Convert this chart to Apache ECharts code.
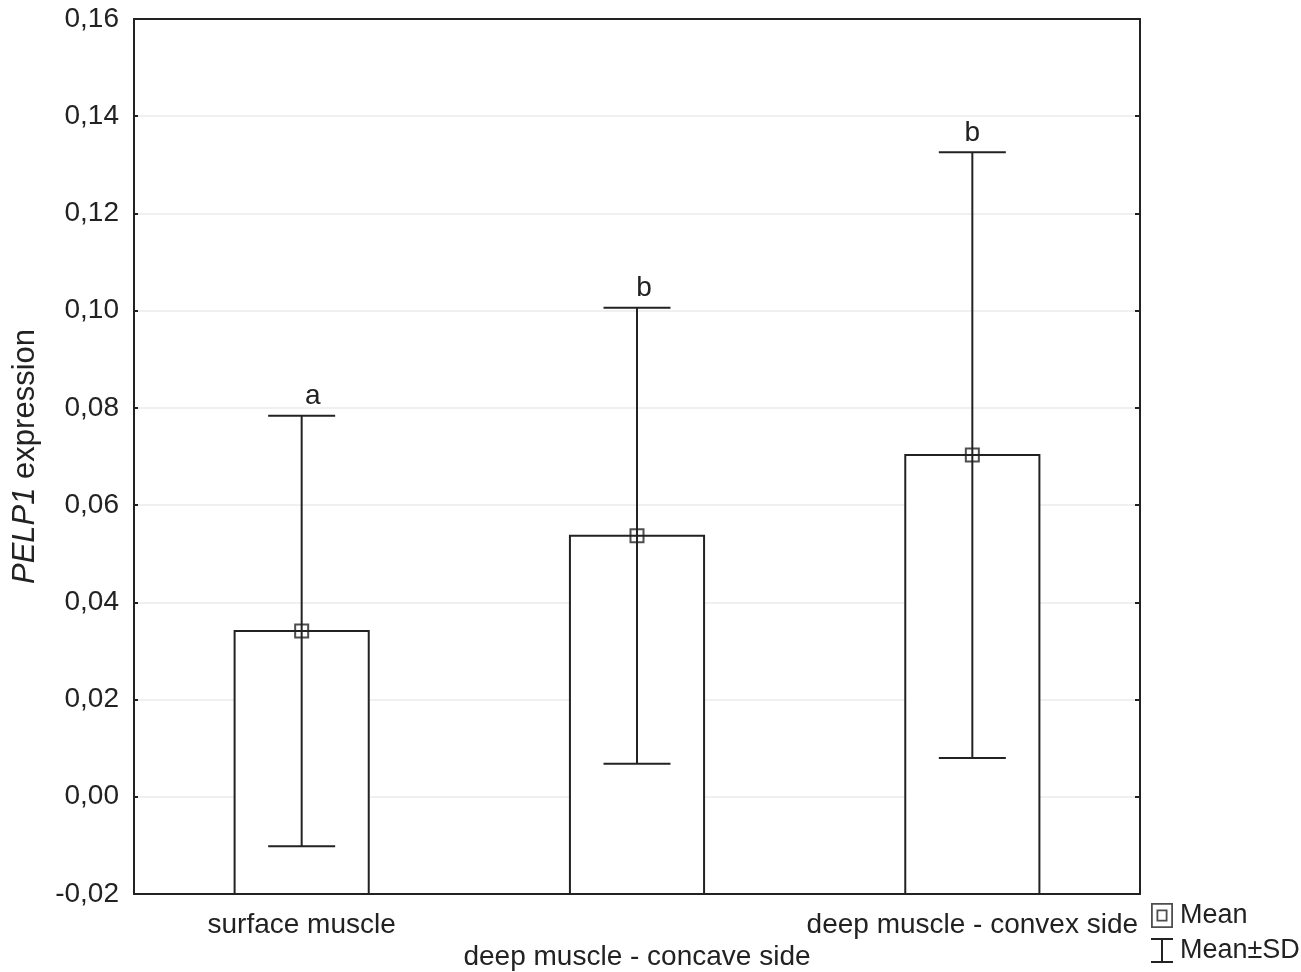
<!DOCTYPE html>
<html>
<head>
<meta charset="utf-8">
<script src="https://cdn.jsdelivr.net/npm/echarts@6/dist/echarts.min.js"></script>
<style>html,body{margin:0;padding:0;background:#fff;}#c{width:1301px;height:972px;}</style>
</head>
<body>
<div id="c"></div>
<script>
var categories = ['surface muscle', 'deep muscle - concave side', 'deep muscle - convex side'];
var means = [0.0341, 0.0537, 0.0703];
var sds = [0.0443, 0.0469, 0.0623];
var letters = ['a', 'b', 'b'];
var yTicks = { min: -0.02, max: 0.16, interval: 0.02 };

// label placement tweaks (style only)
var letterDx = [11, 7, 0];

var FONT = '"Liberation Sans", Arial, sans-serif';
var FS = 28;
var INK = '#222';
var LW = 2;

var barData = categories.map(function (c, i) { return [i, means[i]]; });
var errData = categories.map(function (c, i) {
  return [i, means[i] - sds[i], means[i] + sds[i]];
});
var meanData = categories.map(function (c, i) { return [i, means[i]]; });

var chart = echarts.init(document.getElementById('c'));
chart.setOption({
  animation: false,
  backgroundColor: '#fff',
  grid: { left: 134, right: 161, top: 19, bottom: 78, show: false, containLabel: false, outerBoundsMode: 'none' },
  legend: {
    orient: 'vertical', left: 1146, top: 897, itemGap: 8, itemWidth: 22, itemHeight: 25,
    selectedMode: false,
    textStyle: { fontFamily: FONT, fontSize: FS - 1, color: INK, padding: [0, 0, 0, 2] },
    data: [
      { name: 'Mean', icon: 'path://M0,0H22V25H0ZM1.8,1.8V23.2H20.2V1.8ZM5.5,6.5H16.5V18.5H5.5ZM7.3,8.3V16.7H14.7V8.3Z', itemStyle: { color: INK, borderWidth: 0 } },
      { name: 'Mean±SD', icon: 'path://M0,0H22V2H12V23H22V25H0V23H10V2H0Z', itemStyle: { color: INK, borderWidth: 0 } }
    ]
  },
  xAxis: [{
    type: 'category', data: categories, boundaryGap: true,
    axisLine: { show: true, onZero: false, lineStyle: { color: INK, width: LW } },
    axisTick: { show: true, inside: true, alignWithLabel: true, length: 5, lineStyle: { color: INK, width: LW } },
    axisLabel: {
      fontFamily: FONT, fontSize: FS, color: INK, margin: 15, lineHeight: 32, interval: 0,
      formatter: function (v, i) { return i === 1 ? '\n' + v : v; }
    },
    splitLine: { show: false }
  }, {
    type: 'category', data: categories, position: 'top', boundaryGap: true,
    axisLine: { show: true, onZero: false, lineStyle: { color: INK, width: LW } },
    axisTick: { show: false }, axisLabel: { show: false }, splitLine: { show: false }
  }],
  yAxis: [{
    type: 'value', min: yTicks.min, max: yTicks.max, interval: yTicks.interval,
    name: '{i|PELP1} expression', nameLocation: 'middle', nameGap: 93, nameRotate: 90,
    nameTextStyle: { fontFamily: FONT, fontSize: 31, color: INK, rich: { i: { fontFamily: FONT, fontSize: 31, color: INK, fontStyle: 'italic' } } },
    axisLine: { show: true, onZero: false, lineStyle: { color: INK, width: LW } },
    axisTick: { show: true, inside: true, length: 4, lineStyle: { color: INK, width: LW } },
    axisLabel: {
      fontFamily: FONT, fontSize: FS, color: INK, margin: 15,
      formatter: function (v) { return v.toFixed(2).replace('.', ','); }
    },
    splitLine: { show: true, lineStyle: { color: '#ebebeb', width: 1.5 } }
  }, {
    type: 'value', position: 'right', min: yTicks.min, max: yTicks.max, interval: yTicks.interval,
    axisLine: { show: true, onZero: false, lineStyle: { color: INK, width: LW } },
    axisTick: { show: true, inside: true, length: 5, lineStyle: { color: INK, width: LW } },
    axisLabel: { show: false },
    splitLine: { show: false }
  }],
  series: [{
    name: 'bars', type: 'custom', data: barData, z: 2, silent: true,
    encode: { x: 0, y: 1 },
    renderItem: function (params, api) {
      var x = api.value(0);
      var top = api.coord([x, api.value(1)]);
      var base = api.coord([x, yTicks.min]);
      var w = api.size([1, 0])[0] * 0.4;
      return {
        type: 'rect',
        shape: { x: top[0] - w / 2, y: top[1], width: w, height: base[1] - top[1] },
        style: { fill: '#fff', stroke: INK, lineWidth: LW }
      };
    }
  }, {
    name: 'Mean±SD', type: 'custom', data: errData, z: 3,
    encode: { x: 0, y: [1, 2] },
    itemStyle: { color: INK },
    renderItem: function (params, api) {
      var x = api.value(0);
      var lo = api.coord([x, api.value(1)]);
      var hi = api.coord([x, api.value(2)]);
      var hw = 33.5;
      var st = { stroke: INK, lineWidth: LW, fill: null };
      return {
        type: 'group',
        children: [
          { type: 'line', shape: { x1: hi[0], y1: hi[1], x2: lo[0], y2: lo[1] }, style: st },
          { type: 'line', shape: { x1: hi[0] - hw, y1: hi[1], x2: hi[0] + hw, y2: hi[1] }, style: st },
          { type: 'line', shape: { x1: lo[0] - hw, y1: lo[1], x2: lo[0] + hw, y2: lo[1] }, style: st },
          { type: 'text', x: hi[0] + letterDx[params.dataIndex], y: hi[1] - 5, style: { text: letters[params.dataIndex], fill: INK, font: FS + 'px ' + FONT, textAlign: 'center', textVerticalAlign: 'bottom' } }
        ]
      };
    }
  }, {
    name: 'Mean', type: 'scatter', data: meanData, z: 4,
    symbol: 'rect', symbolSize: 13,
    itemStyle: { color: 'rgba(0,0,0,0)', borderColor: INK, borderWidth: LW }
  }]
});
</script>
</body>
</html>
